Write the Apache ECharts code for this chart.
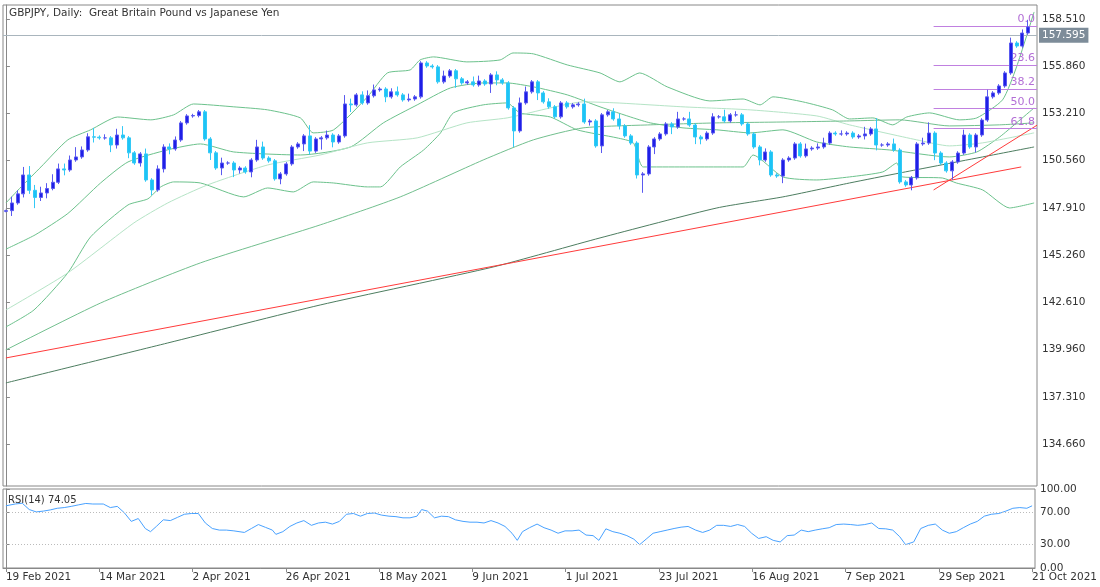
<!DOCTYPE html>
<html><head><meta charset="utf-8">
<script src="https://cdn.jsdelivr.net/npm/echarts@6/dist/echarts.min.js"></script>
<style>html,body{margin:0;padding:0;background:#fff}#c{width:1100px;height:587px}</style>
</head><body><div id="c"></div>
<script>
var dateLabels=['19 Feb 2021','14 Mar 2021','2 Apr 2021','26 Apr 2021','18 May 2021','9 Jun 2021','1 Jul 2021','23 Jul 2021','16 Aug 2021','7 Sep 2021','29 Sep 2021','21 Oct 2021'];
var priceTicks=[158.51,155.86,153.21,150.56,147.91,145.26,142.61,139.96,137.31,134.66];
var closes=[147.76,148.19,148.70,149.76,148.90,148.50,148.75,149.00,149.35,150.10,150.04,150.60,150.77,151.16,151.90,151.88,151.84,151.84,151.44,152.00,151.84,151.00,150.43,150.94,149.48,148.92,150.10,151.33,151.22,151.72,152.68,153.07,153.09,153.30,151.78,151.00,150.15,150.43,150.43,150.04,150.15,149.93,150.60,151.33,
150.71,150.55,149.54,149.82,150.38,151.33,151.50,151.95,151.10,151.78,151.84,152.00,151.61,151.95,153.74,153.69,154.25,153.80,154.20,154.53,154.58,154.14,154.42,154.25,153.97,154.02,154.14,156.04,155.87,155.82,154.98,155.31,155.60,155.15,154.92,154.98,154.81,155.03,154.86,155.37,155.09,154.92,153.52,152.23,153.80,
154.42,154.98,154.36,153.86,153.58,153.02,153.80,153.58,153.69,153.74,152.73,152.79,151.39,153.13,153.30,152.90,152.51,151.95,151.55,149.76,149.82,151.33,151.78,152.06,152.62,152.45,152.90,152.90,152.56,151.89,151.78,152.11,153.02,153.02,152.79,153.13,153.13,152.62,152.06,151.33,150.60,151.05,149.76,149.70,150.60,150.71,151.50,150.83,151.22,151.27,151.33,151.55,152.11,152.06,152.06,152.11,151.89,151.95,152.06,152.34,151.44,151.44,151.50,151.16,149.37,
149.20,149.60,151.50,151.55,152.11,150.99,150.43,149.99,150.49,150.99,152.00,151.33,152.00,152.84,154.14,154.36,154.75,155.48,157.16,156.99,157.72,158.06,157.60];
var firstOpen=147.72;
var hiExt=[0.05,0.35,0.2,0.45,0.5,0.3,0.35,0.3,0.45,0.3,0.3,0.25,0.55,0.2,0.2,0.5,0.1,0.2,0.1,0.35,0.5,0.1,0.1,0.1,0.3,0.1,0.2,0.15,0.2,0.2,0.1,0.1,0.1,0.1,0.1,0.1,0.1,0.3,0.1,0.1,0.1,0.1,0.1,0.4,
0.3,0.1,0.1,0.1,0.1,0.1,0.1,0.1,0.6,0.1,0.1,0.25,0.1,0.1,0.5,0.3,0.1,0.2,0.3,0.3,0.1,0.1,0.2,0.3,0.1,0.3,0.1,0.1,0.1,0.1,0.1,0.3,0.1,0.1,0.1,0.1,0.3,0.3,0.1,0.1,0.2,0.1,0.1,0.1,0.3,
0.3,0.1,0.1,0.1,0.2,0.1,0.1,0.1,0.1,0.1,0.3,0.1,0.1,0.1,0.1,0.2,0.3,0.1,0.1,0.1,0.1,0.1,0.1,0.1,0.1,0.1,0.4,0.1,0.4,0.1,0.1,0.1,0.2,0.1,0.4,0.1,0.2,0.1,0.1,0.1,0.1,0.2,0.1,0.1,0.1,0.1,0.1,0.1,0.3,0.1,0.2,0.3,0.1,0.1,0.2,0.1,0.1,0.1,0.4,0.1,0.6,0.1,0.1,0.3,
0.1,0.1,0.1,0.1,0.3,0.6,0.1,0.1,0.1,0.1,0.1,0.3,0.1,0.1,0.1,0.4,0.1,0.1,0.1,0.3,0.1,0.2,0.4];
var loExt=[0.05,0.3,0.1,0.2,0.2,0.6,0.2,0.3,0.1,0.1,0.3,0.1,0.1,0.1,0.1,0.3,0.1,0.1,0.4,0.2,0.1,0.3,0.1,0.2,0.1,0.3,0.1,0.2,0.3,0.1,0.1,0.1,0.1,0.1,0.1,0.4,0.1,0.4,0.1,0.4,0.2,0.1,0.3,0.1,
0.1,0.1,0.1,0.3,0.1,0.1,0.1,0.4,0.2,0.1,0.6,0.1,0.3,0.1,0.1,0.4,0.1,0.1,0.1,0.1,0.1,0.3,0.1,0.1,0.1,0.1,0.1,0.1,0.1,0.1,0.1,0.1,0.1,0.5,0.1,0.1,0.1,0.1,0.1,0.5,0.3,0.1,0.1,0.9,0.1,
0.1,0.1,0.4,0.1,0.1,0.1,0.1,0.1,0.1,0.1,0.1,0.2,0.1,0.4,0.1,0.1,0.2,0.1,0.1,0.2,1.0,0.1,0.4,0.1,0.1,0.4,0.1,0.1,0.1,0.4,0.3,0.1,0.1,0.1,0.1,0.1,0.1,0.1,0.1,0.1,0.3,0.1,0.1,0.1,0.4,0.1,0.1,0.1,0.1,0.1,0.1,0.1,0.1,0.1,0.1,0.1,0.1,0.1,0.2,0.1,0.3,0.1,0.1,0.1,0.1,
0.1,0.3,0.1,0.1,0.1,0.4,0.1,0.1,0.5,0.1,0.1,0.1,0.3,0.1,0.1,0.1,0.1,0.1,0.1,0.1,0.1,0.1,0.3];
var bbUpper=[[0,148.19],[2.6,149.09],[6.0,150.21],[10.6,151.73],[14.5,152.29],[19.1,153.01],[24.8,152.85],[28.7,153.13],[32.1,153.74],[39.0,153.58],[44.8,153.41],[50.4,152.96],[52.6,152.12],[56.1,152.29],[61.9,154.14],[65.3,155.48],[69.2,155.65],[70.9,156.21],[73.2,156.38],[78.9,156.10],[84.6,156.21],[86.8,156.60],[90.3,156.55],[96.1,155.93],[101.7,155.48],[105.1,154.98],[108.5,155.48],[113.2,154.70],[120.5,153.91],[126.2,154.02],[129.1,153.69],[131.3,154.14],[136.4,153.86],[141.5,153.41],[144.4,152.90],[148.4,152.96],[151.8,152.57],[154.2,153.01],[158.1,153.24],[163.2,152.85],[166.2,152.96],[170.6,153.97],[173.0,155.82],[176,158.90]];
var bbMiddle=[[0,145.6],[5,146.4],[10.6,147.6],[16.2,149.31],[20.9,150.49],[27.7,151.17],[33.3,151.50],[39.0,151.05],[50.4,150.88],[59.0,151.33],[64.6,152.68],[70.4,153.69],[76.1,154.64],[81.7,154.92],[85.8,154.92],[90.3,154.70],[96.1,154.25],[101.7,153.58],[107.4,152.96],[110.3,152.68],[115.9,152.40],[121.7,152.29],[127.4,152.12],[133.0,152.29],[138.8,151.61],[144.4,151.33],[151.3,151.16],[161.5,150.77],[166.2,151.05],[170.1,151.89],[173.0,152.68],[176,153.52]];
var bbLower=[[0,141.24],[4.8,142.19],[10.6,144.27],[14.5,146.29],[20.9,148.08],[24.3,148.42],[26.5,149.09],[28.7,149.37],[33.3,149.31],[40.7,148.53],[44.8,149.03],[49.2,148.81],[52.6,149.37],[56.1,149.31],[61.9,149.09],[64.1,149.09],[67.5,150.21],[71.5,151.16],[74.4,152.12],[76.6,153.24],[81.7,153.69],[85.8,153.80],[88.0,153.24],[93.2,153.01],[97.8,152.29],[104.6,151.84],[107.4,151.56],[109.1,150.21],[115.9,150.21],[126.2,150.21],[127.9,150.88],[133.0,149.65],[138.8,149.48],[144.4,149.65],[150.1,149.93],[152.5,150.43],[153.5,149.65],[160.3,149.59],[162.7,149.31],[167.2,148.92],[171.8,147.91],[176,148.19]];
var ma50=[[0,142.19],[10.6,144.27],[21.9,147.07],[27.7,148.19],[34.5,149.20],[44.8,150.32],[53.8,150.88],[61.9,151.56],[70.4,151.84],[78.9,152.68],[85.8,152.96],[93.2,153.52],[98.8,153.86],[104.6,153.80],[115.9,153.58],[127.4,153.41],[138.8,153.07],[144.4,152.57],[155.9,151.73],[161.5,151.39],[167.2,151.56],[176,152.12]];
var ma100=[[0,139.95],[16.2,142.58],[33.3,144.83],[53.8,146.96],[67.5,148.53],[81.7,150.60],[90.3,151.73],[98.8,152.40],[110.3,152.57],[121.7,152.68],[133.0,152.73],[144.4,152.79],[153.0,152.85],[161.5,152.51],[170.1,152.57],[176,152.68]];
var ma200=[[0,138.10],[27.7,140.34],[53.8,142.47],[83.4,144.60],[101.7,146.23],[121.7,147.91],[133.0,148.53],[144.4,149.31],[153.0,149.87],[176,151.33]];
var trend1=[[0,139.50],[173.8,150.21]];
var trend2=[[158.8,148.92],[176.5,152.55]];
var fibLevels=[0,23.6,38.2,50.0,61.8];
var fibHigh=158.12, fibLow=148.84, fibStart=158.8;
var lastPrice=157.595;
var rsiIdx=[0,1.6,2.8,4.0,5.2,6.4,7.6,8.8,10.0,11.2,12.5,13.7,14.9,16.7,17.9,19.1,20.3,21.5,22.7,23.9,24.8,25.8,27.0,28.2,29.4,30.6,31.8,33.0,34.2,35.4,36.6,37.8,39.1,40.9,42.1,43.3,44.5,45.7,46.3,47.5,48.7,49.9,51.1,52.4,53.6,54.8,56.0,57.2,58.4,59.6,60.8,62.0,63.2,64.4,65.7,66.9,68.1,69.3,70.5,71.3,72.3,73.5,74.7,75.9,77.1,78.4,79.6,80.8,82.0,83.2,84.4,85.6,86.8,87.7,88.6,89.8,91.1,92.3,93.5,94.7,95.9,97.1,98.3,99.5,100.7,101.7,102.9,104.1,105.3,106.5,107.7,108.7,109.8,111.0,112.2,113.4,114.6,115.8,117.0,118.3,119.5,120.7,121.9,123.1,124.3,125.5,126.7,127.9,129.1,130.4,131.6,132.8,134.0,135.2,136.4,137.6,138.8,140.0,141.2,142.4,143.7,144.9,146.1,147.3,148.5,149.7,150.9,152.1,153.3,154.3,155.7,156.9,158.2,159.4,160.6,161.8,163.0,164.2,165.4,166.6,167.8,169.0,170.3,171.5,172.7,173.9,175.1,176];
var rsiVal=[78.7,81,82,74,71,72,73.5,75.6,76.5,78,80,81.7,81,81,76.5,78,70,59,62.6,50,46,52.6,61,60,64,68,69,69,57,50,48,48,47,45,50,55,51.5,48,42.6,46,52.6,57,60,54,57,58,55.6,59,68,69,65.6,69,69.6,67,65.6,65,63.5,63.5,65.6,74,72,63.5,65.6,65,61,59,58,58,57,60,57,52.6,44,35,46,51,55.6,51,48,44,47,47,48,41.7,41,35,49.6,46,44,41,36.5,29.6,36.5,44,46,48,50,51.7,52.6,48,45,48,54,54,52.6,55,52.6,44,37.4,39.6,35,33,41,41.7,48,46,48,49.6,51,55,55.6,55,54,55,57,50,49.6,48,39.6,29.6,33,50,54,55.6,48,44,46,51,55.6,59,65.6,68,69,72,75.6,76.5,75.6,78.7,74.05];

var N=closes.length, cats=[], ohlc=[];
for(var i=0;i<N;i++){cats.push(i);
 var o=i===0?firstOpen:closes[i-1], c=closes[i];
 ohlc.push([o,c,Math.min(o,c)-loExt[i],Math.max(o,c)+hiExt[i]]);}
var rsiData=rsiIdx.map(function(x,k){return [x,rsiVal[k]];});
var fibLines=fibLevels.map(function(l){var v=fibHigh-(fibHigh-fibLow)*l/100;
 return [{coord:[fibStart,v],label:{formatter:l.toFixed(1)}},{coord:[N-0.5,v]}];});
var F='DejaVu Sans';
function ln(d,col,w){return {type:'line',xAxisIndex:1,yAxisIndex:0,data:d,symbol:'none',smooth:0.2,silent:true,lineStyle:{color:col,width:w||1},z:3};}
var chart=echarts.init(document.getElementById('c'),null,{renderer:'canvas'});
chart.setOption({
 animation:false,backgroundColor:'#fff',
 title:[{text:'GBPJPY, Daily:  Great Britain Pound vs Japanese Yen',left:4,top:3,textStyle:{fontFamily:F,fontSize:10.5,fontWeight:'normal',color:'#333'}},
  {text:'RSI(14) 74.05',left:3,top:490,textStyle:{fontFamily:F,fontSize:10,fontWeight:'normal',color:'#333'}}],
 grid:[{left:3,right:63,top:5,height:481,show:true,borderColor:'#888',borderWidth:1},
       {left:3,right:63,top:489,height:79,show:true,borderColor:'#888',borderWidth:1}],
 xAxis:[{type:'category',data:cats,gridIndex:0,show:false,boundaryGap:true},
  {type:'value',gridIndex:0,min:-0.5,max:N-0.5,show:false},
  {type:'value',gridIndex:1,min:-0.5,max:N-0.5,splitLine:{show:false},axisLine:{lineStyle:{color:'#888'}},
   axisTick:{customValues:dateLabels.map(function(d,k){return k*16;}),length:4,lineStyle:{color:'#888'}},
   axisLabel:{customValues:dateLabels.map(function(d,k){return k*16;}),formatter:function(v){return dateLabels[Math.round(v/16)];},align:'left',fontFamily:F,fontSize:10.5,color:'#333',margin:4,showMaxLabel:true}}],
 yAxis:[{type:'value',gridIndex:0,position:'right',min:132.32,max:159.29,scale:true,splitLine:{show:false},
   axisLine:{show:true,lineStyle:{color:'#888'}},axisTick:{show:true,customValues:priceTicks,length:4,lineStyle:{color:'#888'}},
   axisLabel:{customValues:priceTicks,formatter:function(v){return v.toFixed(3);},fontFamily:F,fontSize:10.5,color:'#333',margin:5}},
  {type:'value',gridIndex:1,position:'right',min:0,max:100,splitLine:{show:false},
   axisLine:{show:true,lineStyle:{color:'#888'}},axisTick:{show:true,customValues:[0,30,70,100],length:4,lineStyle:{color:'#888'}},
   axisLabel:{customValues:[0,30,70,100],formatter:function(v){return v.toFixed(2);},fontFamily:F,fontSize:10.5,color:'#333',margin:5}}],
 series:[
  ln(bbUpper,'#6cc28c'),ln(bbMiddle,'#6cc28c'),ln(bbLower,'#6cc28c'),
  ln(ma50,'#b5e4c6'),ln(ma100,'#72bf8e'),ln(ma200,'#4d7d60'),
  {type:'line',xAxisIndex:1,yAxisIndex:0,data:trend1,symbol:'none',lineStyle:{color:'#ff3b3b',width:1},z:3,silent:true},
  {type:'line',xAxisIndex:1,yAxisIndex:0,data:trend2,symbol:'none',lineStyle:{color:'#ff3b3b',width:1},z:3,silent:true,
   markLine:{symbol:'none',silent:true,data:fibLines,lineStyle:{color:'#c080e0',width:1,type:'solid'},
    label:{position:'insideEndTop',color:'#b36fd6',fontFamily:F,fontSize:11,distance:[2,1]}}},
  {type:'candlestick',xAxisIndex:0,yAxisIndex:0,data:ohlc,barWidth:3.5,z:5,
   itemStyle:{color:'#1f1fe6',color0:'#1cc4f6',borderColor:'#5a5af0',borderColor0:'#33c9f6',borderWidth:1},
   markLine:{symbol:'none',silent:true,data:[{yAxis:lastPrice}],lineStyle:{color:'#a9b5bd',width:1,type:'solid'},
    label:{position:'end',formatter:'157.595',backgroundColor:'#7d8c99',color:'#fff',fontFamily:F,fontSize:10.5,padding:[2,3],distance:2}}},
  {type:'line',xAxisIndex:2,yAxisIndex:1,data:rsiData,symbol:'none',lineStyle:{color:'#49a2ff',width:1},z:3,silent:true,
   markLine:{symbol:'none',silent:true,data:[{yAxis:70},{yAxis:30}],lineStyle:{color:'#bbb',width:1,type:[1,2]},label:{show:false}}}
 ]});
</script></body></html>
